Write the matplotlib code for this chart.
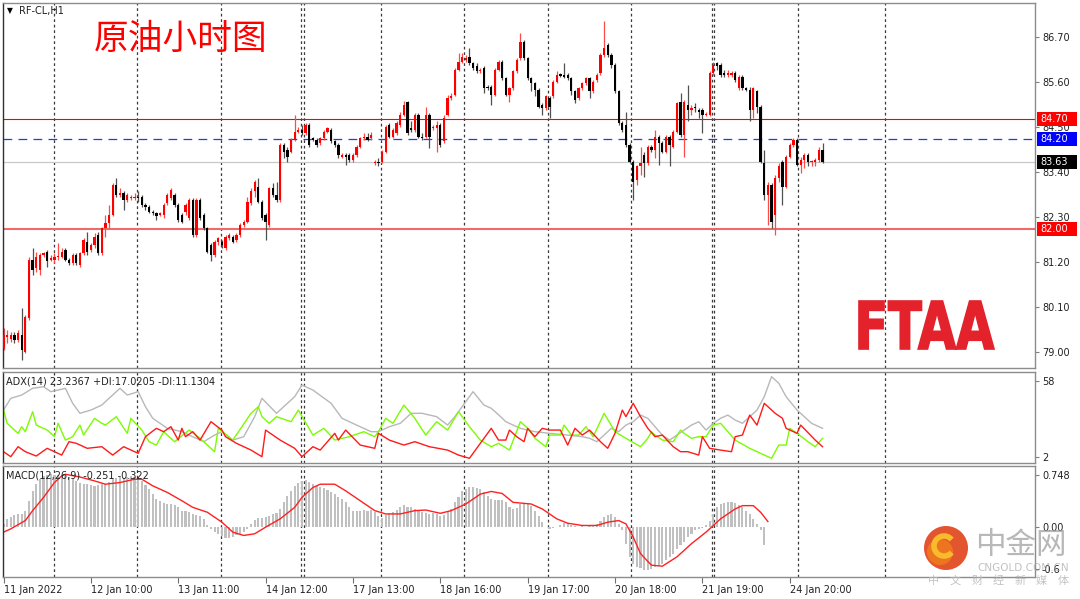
import numpy as np
import matplotlib
matplotlib.use("Agg")
import matplotlib.pyplot as plt
from matplotlib.patches import Circle, PathPatch, Rectangle, Arc
from matplotlib.textpath import TextPath
from matplotlib.font_manager import FontProperties
from matplotlib.transforms import Affine2D, IdentityTransform, blended_transform_factory

W, H = 1080, 599

# ---- RF-CL H1 candles ----
opens = [
    79.09, 79.37, 79.33, 79.41, 79.29, 79.41, 79.01, 79.82, 81.25, 81.04,
    81.00, 81.37, 81.45, 81.25, 81.25, 81.33, 81.33, 81.49, 81.25, 81.17,
    81.37, 81.13, 81.41, 81.69, 81.49, 81.61, 81.86, 81.41, 82.02, 82.14,
    82.35, 83.08, 82.83, 82.88, 82.71, 82.75, 82.75, 82.79, 82.79, 82.59,
    82.55, 82.43, 82.39, 82.35, 82.35, 82.63, 82.75, 82.83, 82.59, 82.35,
    82.43, 82.26, 82.71, 81.86, 82.71, 82.35, 82.02, 81.61, 81.37, 81.69,
    81.69, 81.53, 81.78, 81.82, 81.74, 81.86, 82.10, 82.18, 82.63, 82.92,
    83.04, 82.67, 82.35, 82.10, 83.00, 82.83, 82.71, 84.06, 83.93, 83.89,
    84.18, 84.38, 84.42, 84.34, 84.54, 84.22, 84.18, 84.10, 84.22, 84.38,
    84.42, 84.14, 84.06, 83.77, 83.81, 83.81, 83.69, 83.81, 84.01, 84.22,
    84.26, 84.22, 83.61, 83.65, 83.65, 83.89, 84.54, 84.26, 84.34, 84.54,
    84.79, 85.10, 84.46, 84.42, 84.79, 84.26, 84.26, 84.79, 84.46, 84.46,
    84.54, 84.14, 84.79, 85.20, 85.28, 85.89, 86.09, 86.13, 86.21, 86.05,
    85.97, 85.85, 85.93, 85.48, 85.48, 85.28, 85.89, 86.09, 85.68, 85.28,
    85.44, 85.85, 86.17, 86.58, 86.17, 85.68, 85.56, 85.40, 85.03, 84.95,
    85.20, 85.24, 85.60, 85.76, 85.76, 85.76, 85.68, 85.36, 85.20, 85.44,
    85.56, 85.68, 85.36, 85.64, 85.81, 86.25, 86.50, 86.25, 86.01, 85.36,
    84.58, 84.54, 84.06, 83.65, 83.20, 83.53, 83.81, 83.61, 84.01, 83.93,
    84.26, 84.10, 83.89, 84.26, 84.01, 84.38, 85.10, 84.30, 85.03, 84.91,
    84.99, 84.91, 84.91, 84.79, 84.79, 85.81, 86.05, 86.01, 85.81, 85.76,
    85.76, 85.81, 85.44, 85.72, 85.44, 85.40, 84.91, 85.36, 84.99, 83.61,
    82.83, 83.08, 82.35, 83.24, 83.65, 83.04, 83.77, 84.06, 84.18, 83.57,
    83.69, 83.81, 83.65, 83.65, 83.69, 83.93,
]
highs = [
    79.58, 79.54, 79.50, 79.50, 79.54, 80.07, 79.90, 81.33, 81.53, 81.45,
    81.41, 81.45, 81.49, 81.37, 81.41, 81.65, 81.53, 81.53, 81.29, 81.41,
    81.41, 81.45, 81.78, 81.94, 81.65, 81.90, 81.94, 82.06, 82.35, 82.59,
    83.12, 83.24, 83.00, 82.92, 82.88, 82.83, 82.88, 82.92, 82.83, 82.63,
    82.59, 82.47, 82.43, 82.43, 82.63, 82.88, 83.00, 82.88, 82.63, 82.39,
    82.63, 82.75, 82.75, 82.75, 82.75, 82.39, 82.06, 81.65, 81.74, 81.82,
    81.74, 81.86, 81.90, 81.86, 81.90, 82.14, 82.22, 82.79, 83.00, 83.20,
    83.24, 82.71, 82.39, 83.04, 83.12, 83.16, 84.10, 84.10, 84.01, 84.22,
    84.79, 84.50, 84.54, 84.58, 84.58, 84.26, 84.22, 84.26, 84.42, 84.50,
    84.46, 84.18, 84.10, 83.85, 83.85, 83.85, 83.85, 84.06, 84.26, 84.34,
    84.34, 84.38, 83.69, 83.73, 83.93, 84.54, 84.58, 84.46, 84.63, 84.87,
    85.13, 85.13, 84.63, 84.83, 84.83, 84.34, 84.99, 84.83, 84.54, 84.63,
    84.58, 84.79, 85.28, 85.32, 85.93, 86.29, 86.29, 86.25, 86.42, 86.09,
    86.05, 85.93, 85.97, 85.52, 85.52, 85.93, 86.13, 86.13, 85.72, 85.48,
    85.89, 86.17, 86.78, 86.62, 86.21, 85.72, 85.60, 85.44, 85.07, 85.28,
    85.24, 85.64, 85.85, 85.81, 86.05, 85.81, 85.72, 85.40, 85.48, 85.60,
    85.72, 85.72, 85.64, 85.81, 86.29, 87.08, 86.54, 86.29, 86.05, 85.40,
    84.63, 84.87, 84.10, 83.69, 83.57, 84.01, 83.89, 84.06, 84.06, 84.42,
    84.30, 84.14, 84.30, 84.30, 84.42, 85.11, 85.32, 85.15, 85.52, 85.03,
    85.07, 84.95, 84.95, 84.87, 85.85, 86.09, 86.09, 86.05, 85.89, 85.89,
    85.85, 85.85, 85.76, 85.76, 85.48, 85.48, 85.48, 85.40, 85.03, 83.93,
    83.16, 83.12, 83.32, 83.61, 83.69, 83.81, 84.10, 84.22, 84.22, 83.77,
    83.85, 83.85, 83.69, 83.73, 84.01, 84.10,
]
lows = [
    79.05, 79.21, 79.25, 79.21, 79.25, 78.80, 78.97, 79.78, 80.88, 80.96,
    80.88, 81.33, 81.08, 81.21, 81.17, 81.25, 81.29, 81.21, 81.13, 81.13,
    81.13, 81.08, 81.37, 81.37, 81.45, 81.53, 81.37, 81.37, 81.82, 82.02,
    82.31, 82.79, 82.79, 82.47, 82.67, 82.71, 82.71, 82.67, 82.55, 82.47,
    82.39, 82.35, 82.22, 82.31, 82.26, 82.59, 82.71, 82.55, 82.18, 82.14,
    82.35, 82.22, 81.82, 81.82, 82.22, 81.98, 81.41, 81.21, 81.33, 81.61,
    81.53, 81.49, 81.74, 81.65, 81.69, 81.82, 82.06, 82.14, 82.59, 82.79,
    82.63, 82.22, 81.74, 82.06, 82.79, 82.67, 82.67, 83.73, 83.65, 83.85,
    84.14, 84.34, 84.30, 84.30, 84.01, 84.14, 84.01, 84.06, 84.18, 84.34,
    84.10, 84.01, 83.73, 83.73, 83.57, 83.65, 83.65, 83.77, 83.97, 84.18,
    84.14, 84.18, 83.57, 83.53, 83.61, 83.85, 84.22, 84.22, 84.30, 84.50,
    84.75, 84.30, 84.38, 84.38, 84.22, 84.18, 84.22, 83.97, 84.42, 83.89,
    84.01, 84.10, 84.75, 85.15, 85.24, 85.85, 86.05, 86.09, 86.01, 85.89,
    85.81, 85.81, 85.32, 85.40, 85.03, 85.24, 85.85, 85.64, 85.24, 85.11,
    85.40, 85.81, 86.13, 86.13, 85.64, 85.36, 85.24, 84.95, 84.79, 84.91,
    84.71, 85.20, 85.56, 85.72, 85.68, 85.64, 85.28, 85.07, 85.15, 85.40,
    85.52, 85.20, 85.32, 85.60, 85.76, 86.21, 86.21, 85.93, 85.32, 84.54,
    84.38, 84.01, 83.61, 82.71, 83.08, 83.32, 83.28, 83.57, 83.89, 83.73,
    83.57, 83.85, 83.85, 83.53, 83.97, 84.34, 84.26, 83.77, 84.63, 84.79,
    84.87, 84.71, 84.34, 84.75, 84.75, 85.76, 85.89, 85.72, 85.72, 85.72,
    85.72, 85.60, 85.40, 85.40, 85.36, 84.63, 84.71, 84.83, 83.61, 82.71,
    82.10, 82.02, 81.86, 83.16, 82.59, 83.00, 83.73, 84.01, 83.53, 83.36,
    83.49, 83.53, 83.53, 83.53, 83.65, 83.61,
]
closes = [
    79.41, 79.41, 79.41, 79.29, 79.46, 79.05, 79.86, 81.25, 81.00, 81.33,
    81.37, 81.41, 81.21, 81.30, 81.33, 81.33, 81.45, 81.25, 81.17, 81.37,
    81.17, 81.41, 81.74, 81.45, 81.61, 81.82, 81.41, 82.02, 82.14, 82.35,
    83.08, 82.83, 82.88, 82.71, 82.83, 82.79, 82.79, 82.75, 82.59, 82.55,
    82.43, 82.39, 82.31, 82.39, 82.59, 82.83, 82.96, 82.59, 82.22, 82.18,
    82.59, 82.71, 81.86, 82.71, 82.26, 82.02, 81.45, 81.37, 81.69, 81.78,
    81.61, 81.82, 81.86, 81.69, 81.86, 82.10, 82.18, 82.67, 82.92, 83.16,
    82.67, 82.26, 82.18, 83.00, 82.83, 82.71, 84.06, 83.89, 83.77, 84.18,
    84.38, 84.42, 84.34, 84.54, 84.06, 84.18, 84.06, 84.22, 84.38, 84.46,
    84.14, 84.06, 83.81, 83.81, 83.77, 83.69, 83.81, 84.01, 84.22, 84.26,
    84.18, 84.30, 83.65, 83.61, 83.89, 84.50, 84.26, 84.42, 84.58, 84.79,
    85.03, 84.34, 84.42, 84.79, 84.26, 84.22, 84.79, 84.26, 84.50, 84.54,
    84.06, 84.71, 85.20, 85.24, 85.89, 86.09, 86.21, 86.17, 86.05, 85.93,
    85.85, 85.89, 85.44, 85.44, 85.28, 85.89, 86.09, 85.68, 85.28, 85.44,
    85.85, 86.13, 86.58, 86.17, 85.68, 85.56, 85.40, 84.99, 84.95, 85.24,
    84.99, 85.60, 85.76, 85.75, 85.72, 85.68, 85.36, 85.15, 85.44, 85.56,
    85.68, 85.36, 85.60, 85.76, 86.25, 86.42, 86.25, 86.01, 85.36, 84.58,
    84.42, 84.06, 83.65, 83.16, 83.53, 83.61, 83.61, 84.01, 83.93, 84.26,
    84.10, 83.89, 84.26, 84.06, 84.38, 85.07, 84.30, 85.11, 84.91, 84.95,
    84.95, 84.87, 84.79, 84.80, 85.81, 86.01, 85.97, 85.76, 85.76, 85.81,
    85.81, 85.64, 85.72, 85.44, 85.40, 84.91, 85.44, 84.99, 83.65, 82.83,
    83.08, 82.18, 83.24, 83.53, 83.04, 83.77, 84.06, 84.18, 83.57, 83.69,
    83.81, 83.65, 83.65, 83.69, 83.93, 83.63,
]

# horizontal levels drawn on the chart
level_red = 84.70
level_blue = 84.20
level_bid = 83.63
level_support = 82.00

price_ticks = [86.70, 85.60, 84.50, 83.40, 82.30, 81.20, 80.10, 79.00]

# day separators (bar positions)
day_breaks = [14, 36.7, 59.8, 81.7, 82.5, 103.7, 126.5, 149.6, 172.4, 194.6, 195.2, 218.3, 242.2]

time_tick_bars = [0, 24, 48, 72, 96, 120, 144, 168, 192, 216]
time_tick_labels = ["11 Jan 2022", "12 Jan 10:00", "13 Jan 11:00", "14 Jan 12:00",
                    "17 Jan 13:00", "18 Jan 16:00", "19 Jan 17:00", "20 Jan 18:00",
                    "21 Jan 19:00", "24 Jan 20:00"]

# ---- ADX(14) ----
adx_x = [0, 2, 5, 8, 11, 13, 15, 17, 19, 21, 24, 27, 29, 32, 34, 37, 39, 41, 45, 49,
         51, 55, 58, 60, 63, 66, 69, 71, 75, 80, 82, 85, 90, 93, 97, 101, 103, 106, 109, 112,
         115, 119, 122, 124, 127, 129, 132, 134, 136, 138, 140, 142, 144, 146, 150, 155, 159, 161, 163, 165,
         167, 169, 171, 173, 175, 177, 179, 181, 183, 185, 187, 189, 191, 193, 195, 197, 199, 201, 203, 205,
         207, 209, 211, 213, 215, 218, 220, 222, 225]
adx_v = [36.5, 45.2, 47.6, 52.6, 53.8, 50.1, 51.3, 52.6, 41.5, 34.1, 36.5, 40.2, 45.2, 52.6, 47.6, 50.1, 39.0, 30.4, 23.0, 20.5,
         18.0, 13.1, 18.0, 20.5, 14.3, 16.8, 31.6, 45.2, 34.1, 46.4, 55.0, 51.3, 41.5, 30.4, 25.4, 20.5, 20.5, 24.2, 26.7, 34.1,
         34.1, 31.6, 25.4, 31.6, 42.7, 50.1, 40.2, 37.8, 33.0, 27.9, 25.4, 23.0, 21.7, 20.5, 19.3, 18.0, 16.8, 15.6, 13.1, 18.0,
         23.0, 20.5, 25.4, 27.9, 32.8, 30.4, 24.2, 18.0, 14.3, 18.0, 21.7, 25.4, 27.9, 21.7, 26.7, 30.4, 32.8, 29.1, 26.7, 31.6,
         36.5, 46.4, 61.2, 56.3, 46.4, 36.5, 31.6, 26.7, 23.0]
pdi_x = [0, 1, 4, 5, 6, 8, 9, 12, 14, 15, 17, 19, 21, 22, 25, 27, 28, 31, 34, 35,
         38, 40, 42, 44, 47, 51, 54, 58, 59, 63, 68, 70, 71, 73, 75, 79, 81, 85, 88, 91,
         95, 99, 102, 103, 105, 107, 110, 113, 116, 119, 122, 125, 128, 131, 134, 136, 139, 142, 144, 146,
         149, 150, 153, 154, 156, 158, 160, 162, 165, 168, 171, 175, 177, 178, 179, 181, 184, 186, 187, 189,
         191, 193, 195, 197, 201, 205, 208, 211, 213, 215, 216, 218, 221, 223, 225]
pdi_v = [36.5, 26.7, 19.3, 24.2, 20.5, 35.3, 25.4, 21.7, 16.8, 26.7, 14.3, 16.8, 25.4, 18.0, 30.4, 26.7, 25.4, 31.6, 19.3, 30.4,
         21.7, 13.1, 10.6, 20.5, 13.1, 21.7, 15.6, 5.7, 23.0, 14.3, 34.1, 39.0, 31.6, 26.7, 31.6, 27.9, 36.5, 18.0, 23.0, 14.3,
         16.8, 20.5, 16.8, 20.5, 30.4, 26.7, 40.2, 30.4, 18.0, 27.9, 21.7, 35.3, 24.2, 14.3, 9.4, 11.9, 6.9, 27.9, 23.0, 15.6,
         9.4, 18.0, 18.0, 25.4, 18.0, 18.0, 24.2, 16.8, 34.1, 20.5, 15.6, 9.4, 15.6, 20.5, 18.0, 14.3, 13.1, 21.7, 19.3, 15.6,
         16.8, 16.8, 25.4, 26.7, 14.3, 8.2, 4.5, 0.8, 10.6, 10.6, 23.0, 19.3, 13.1, 9.4, 15.6]
mdi_x = [0, 2, 4, 6, 9, 12, 16, 18, 20, 23, 27, 30, 33, 37, 39, 42, 44, 46, 48, 49,
         50, 52, 54, 57, 60, 61, 64, 68, 71, 72, 76, 80, 82, 85, 87, 91, 92, 94, 98, 102,
         103, 106, 110, 113, 117, 122, 125, 128, 131, 134, 136, 138, 139, 141, 143, 144, 146, 148, 150, 153,
         155, 157, 159, 161, 164, 166, 168, 170, 171, 173, 175, 177, 179, 181, 184, 186, 188, 191, 192, 194,
         197, 200, 201, 203, 205, 207, 209, 212, 214, 215, 218, 219, 223, 225]
mdi_v = [5.7, 2.0, 9.4, 5.7, 2.5, 8.2, 3.2, 13.1, 11.9, 8.2, 9.4, 3.2, 9.4, 4.5, 16.8, 23.0, 20.5, 24.2, 14.3, 23.0,
         16.8, 20.5, 14.3, 27.9, 21.7, 16.8, 11.9, 6.9, 2.0, 21.7, 14.3, 8.2, 2.0, 9.4, 6.9, 19.3, 14.3, 21.7, 10.6, 8.2,
         19.3, 14.3, 10.6, 13.1, 9.4, 6.9, 3.2, 0.8, 11.9, 23.0, 14.3, 14.3, 21.7, 16.8, 13.1, 23.0, 16.8, 23.0, 21.7, 21.7,
         10.6, 23.0, 18.0, 21.7, 13.1, 8.2, 19.3, 36.5, 31.6, 41.5, 31.6, 23.0, 16.8, 18.0, 9.4, 5.7, 5.7, 3.2, 16.8, 8.2,
         6.9, 5.7, 16.8, 18.0, 32.8, 25.4, 41.5, 34.1, 30.4, 23.0, 19.3, 25.4, 14.3, 9.4]

# ---- MACD(12,26,9) ----
macd_hist = [
    0.047, 0.118, 0.150, 0.179, 0.188, 0.188, 0.235, 0.376, 0.517, 0.611,
    0.682, 0.729, 0.743, 0.752, 0.743, 0.743, 0.729, 0.729, 0.714, 0.682,
    0.658, 0.635, 0.620, 0.611, 0.602, 0.588, 0.602, 0.611, 0.620, 0.649,
    0.682, 0.705, 0.714, 0.705, 0.714, 0.729, 0.714, 0.696, 0.658, 0.602,
    0.541, 0.470, 0.400, 0.367, 0.338, 0.329, 0.329, 0.320, 0.282, 0.235,
    0.226, 0.212, 0.188, 0.179, 0.165, 0.118, 0.024, -0.024, -0.071, -0.103,
    -0.132, -0.150, -0.150, -0.141, -0.118, -0.103, -0.071, -0.024, 0.047, 0.103,
    0.132, 0.132, 0.141, 0.165, 0.188, 0.197, 0.259, 0.353, 0.447, 0.517,
    0.588, 0.635, 0.658, 0.667, 0.649, 0.611, 0.588, 0.573, 0.555, 0.526,
    0.494, 0.470, 0.432, 0.400, 0.353, 0.282, 0.235, 0.226, 0.235, 0.244,
    0.235, 0.244, 0.212, 0.165, 0.132, 0.179, 0.197, 0.212, 0.244, 0.291,
    0.320, 0.291, 0.282, 0.259, 0.235, 0.212, 0.197, 0.188, 0.197, 0.188,
    0.165, 0.179, 0.212, 0.259, 0.353, 0.432, 0.508, 0.541, 0.573, 0.573,
    0.564, 0.541, 0.494, 0.447, 0.400, 0.385, 0.385, 0.385, 0.353, 0.282,
    0.259, 0.268, 0.329, 0.338, 0.338, 0.306, 0.235, 0.165, 0.071, 0.009,
    -0.024, -0.014, 0.009, 0.024, 0.056, 0.056, 0.024, 0.014, 0.009, 0.014,
    0.009, 0.014, 0.019, 0.047, 0.085, 0.141, 0.179, 0.188, 0.141, 0.047,
    -0.047, -0.235, -0.423, -0.517, -0.564, -0.588, -0.611, -0.611, -0.602, -0.564,
    -0.555, -0.517, -0.470, -0.423, -0.376, -0.306, -0.259, -0.212, -0.141, -0.094,
    -0.047, -0.024, -0.005, 0.024, 0.094, 0.188, 0.282, 0.329, 0.338, 0.353,
    0.353, 0.338, 0.320, 0.282, 0.235, 0.188, 0.118, 0.047, -0.047, -0.259,
]
sig_x = [0, 2, 6, 8, 11, 14, 16, 17, 21, 25, 28, 32, 36, 38, 41, 45, 49, 52, 56, 60,
         63, 66, 69, 72, 76, 80, 82, 85, 87, 91, 94, 98, 102, 105, 109, 113, 116, 120, 123, 127,
         131, 134, 137, 140, 145, 148, 152, 155, 159, 163, 166, 169, 171, 173, 175, 178, 181, 185, 189, 193,
         195, 197, 201, 203, 206, 208, 210]
sig_v = [-0.071, -0.024, 0.094, 0.235, 0.423, 0.635, 0.729, 0.752, 0.714, 0.658,
         0.611, 0.635, 0.682, 0.682, 0.588, 0.494, 0.376, 0.282, 0.212, 0.071,
         -0.071, -0.118, -0.094, 0.0, 0.118, 0.282, 0.423, 0.564, 0.611, 0.611,
         0.517, 0.376, 0.235, 0.188, 0.188, 0.235, 0.244, 0.197, 0.235, 0.329,
         0.470, 0.508, 0.479, 0.353, 0.329, 0.259, 0.118, 0.056, 0.024, 0.024,
         0.071, 0.094, 0.047, -0.141, -0.376, -0.541, -0.555, -0.423, -0.235, -0.071,
         0.024, 0.118, 0.259, 0.306, 0.306, 0.212, 0.080]

watermark_sub = ["中", "文", "财", "经", "新", "媒", "体"]

# ---------------------------------------------------------------
BAR_PX = 3.64   # pixel step between bars
FIRST_PX = 3.5  # pixel of bar 0
XLIM = ((3 - FIRST_PX) / BAR_PX, (1035 - FIRST_PX) / BAR_PX)
CJK = ["Noto Sans CJK SC", "DejaVu Sans"]

fig = plt.figure(figsize=(W / 100, H / 100), dpi=100, facecolor="white")


def px_axes(left, top, right, bottom):
    return fig.add_axes([left / W, 1 - bottom / H, (right - left) / W, (bottom - top) / H])


def fx(px):
    return px / W


def fy(py):
    return 1 - py / H


ax = px_axes(3, 3, 1035, 368)
ax_adx = px_axes(3, 372, 1035, 463)
ax_macd = px_axes(3, 466, 1035, 577)

for a in (ax, ax_adx, ax_macd):
    a.set_xlim(*XLIM)
    a.set_facecolor("white")
    for sp in a.spines.values():
        sp.set_color("#8c8c8c")
        sp.set_linewidth(1.0)
    a.spines["left"].set_color("#303030")
    a.yaxis.tick_right()
    a.tick_params(axis="y", direction="out", length=3, width=0.8, color="#808080",
                  labelsize=7, pad=2, labelcolor="#202020")
    a.tick_params(axis="x", bottom=False, labelbottom=False)
    for xb in day_breaks:
        a.axvline(xb, color="#3a3a3a", lw=0.9, dashes=(2.2, 2.2), zorder=0.5)

# ---- main price panel ----
o = np.array(opens)
h = np.array(highs)
l = np.array(lows)
c = np.array(closes)
idx = np.arange(len(c))
up = c >= o

ax.set_ylim(78.61, 87.52)
ax.axhline(level_red, color="#ff0000", lw=0.8, zorder=1)
ax.axhline(level_blue, color="#1f3fe0", lw=0.9, dashes=(7, 5), zorder=1)
ax.axhline(level_bid, color="#c8c8c8", lw=0.9, zorder=1)
ax.axhline(level_support, color="#f06a6a", lw=1.5, zorder=1)

for mask, body_col, wick_col in [(up, "#ff0000", "#ff4a4a"), (~up, "#000000", "#505050")]:
    ax.vlines(idx[mask], l[mask], h[mask], color=wick_col, lw=0.9, zorder=2)
    bottom = np.minimum(o, c)[mask]
    height = np.maximum(np.abs(c - o)[mask], 0.025)
    ax.bar(idx[mask], height, bottom=bottom, width=0.62, color=body_col, lw=0, zorder=3)

ax.set_yticks(price_ticks)
ax.set_yticklabels([f"{v:.2f}" for v in price_ticks])

# highlighted price tags on the right scale
trans = blended_transform_factory(ax.transAxes, ax.transData)
tag_h = 14 / 40.95
for val, bg in [(level_red, "#ff0000"), (level_blue, "#0000ff"),
                (level_bid, "#000000"), (level_support, "#ff0000")]:
    ax.add_patch(Rectangle((1.0015, val - tag_h / 2), 40 / 1032, tag_h, transform=trans,
                           fc=bg, ec="none", clip_on=False, zorder=6))
    ax.text(1.0055, val, f"{val:.2f}", transform=trans, color="white", fontsize=7,
            va="center", ha="left", clip_on=False, zorder=7)

# ---- ADX panel ----
ax_adx.set_ylim(-2.66, 64.66)
ax_adx.plot(adx_x, adx_v, color="#b8b8b8", lw=1.0)
ax_adx.plot(pdi_x, pdi_v, color="#7cfc00", lw=1.0)
ax_adx.plot(mdi_x, mdi_v, color="#ff1a1a", lw=1.0)
ax_adx.set_yticks([58, 2])
ax_adx.set_yticklabels(["58", "2"])

# ---- MACD panel ----
ax_macd.set_ylim(-0.709, 0.870)
ax_macd.bar(np.arange(len(macd_hist)), macd_hist, width=0.58, color="#c0c0c0", lw=0)
ax_macd.plot(sig_x, sig_v, color="#ff2020", lw=1.0)
ax_macd.set_yticks([0.748, 0.0, -0.6])
ax_macd.set_yticklabels(["0.748", "0.00", "-0.6"])

ax_macd.set_xticks(time_tick_bars)
ax_macd.set_xticklabels(time_tick_labels)
ax_macd.tick_params(axis="x", bottom=True, labelbottom=True, direction="out", length=4,
                    width=0.8, color="#707070", labelsize=7, pad=2, labelcolor="#202020")
for lab in ax_macd.get_xticklabels():
    lab.set_ha("left")

# ---- texts ----
fig.text(fx(7), fy(11), "\u25bc", fontsize=5.5, color="black", va="center", ha="left")
fig.text(fx(19), fy(11), "RF-CL,H1", fontsize=7, color="#202020", va="center", ha="left")
fig.text(fx(94), fy(39), "原油小时图", fontsize=25, color="#ff0000", va="center", ha="left",
         family=CJK, fontweight="light")
fig.text(fx(6), fy(381), "ADX(14) 23.2367 +DI:17.0205 -DI:11.1304", fontsize=7,
         color="#202020", va="center", ha="left")
fig.text(fx(6), fy(475), "MACD(12,26,9) -0.251 -0.322", fontsize=7,
         color="#202020", va="center", ha="left")

# ---- FTAA logo (drawn in pixel coordinates) ----
tp = TextPath((0, 0), "FTAA", size=100, prop=FontProperties(family="DejaVu Sans", weight="bold"))
ext = tp.get_extents()
x0, y0, x1, y1 = 859, 301, 994, 349
tr = (Affine2D().translate(-ext.x0, -ext.y0)
      .scale((x1 - x0) / ext.width, (y1 - y0) / ext.height)
      .translate(x0, H - y1))
fig.patches.append(PathPatch(tp, transform=tr, fc="#e3222b", ec="#e3222b", lw=1.2,
                             figure=fig, zorder=10))

# ---- watermark (中金网), pixel coordinates ----
pix = IdentityTransform()
fig.patches.append(Circle((946, H - 548), 22, transform=pix, fc="#e0461c", ec="none",
                          alpha=0.92, figure=fig, zorder=10))
fig.patches.append(Circle((940, H - 552), 13, transform=pix, fc="#f0791f", ec="none",
                          alpha=0.9, figure=fig, zorder=10))
fig.patches.append(Arc((944, H - 546), 20, 20, theta1=40, theta2=320, transform=pix,
                       color="#f8bb2c", lw=4, figure=fig, zorder=11))
fig.text(fx(975), fy(546), "中金网", fontsize=22, color="#9a9a9a", alpha=0.7,
         va="center", ha="left", family=CJK, zorder=11)
fig.text(fx(977), fy(568), "CNGOLD.COM.CN", fontsize=7.5, color="#a8a8a8", alpha=0.7,
         va="center", ha="left", zorder=11)
for k, ch in enumerate(watermark_sub):
    fig.text(fx(934 + k * 21.5), fy(581), ch, fontsize=8, color="#b4b4b4", alpha=0.8,
             va="center", ha="center", family=CJK, zorder=11)

fig.savefig("out.png", dpi=100, facecolor="white")
